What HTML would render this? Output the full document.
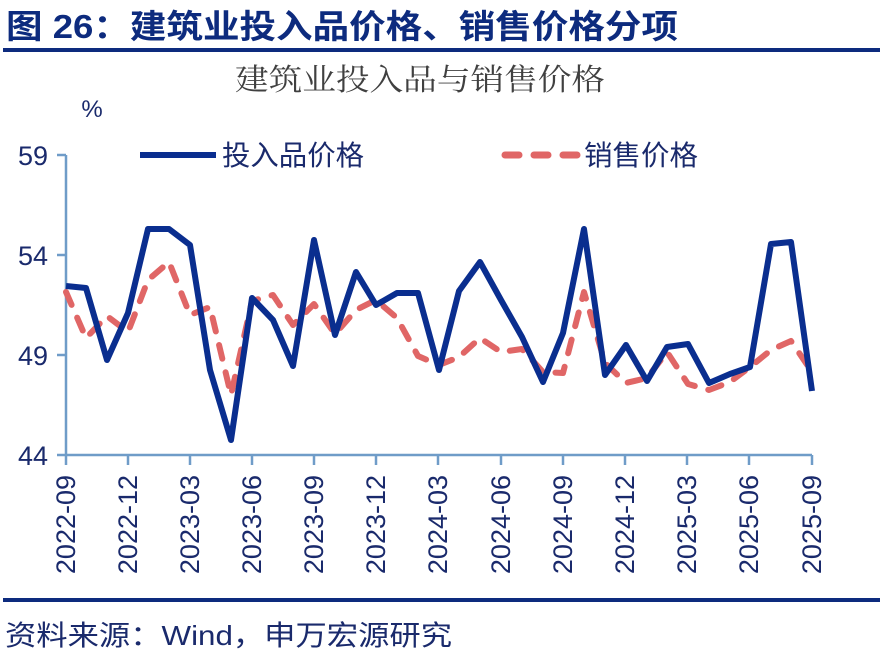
<!DOCTYPE html>
<html><head><meta charset="utf-8"><style>
html,body{margin:0;padding:0;background:#fff;}
svg{display:block;}
</style></head><body>
<svg width="886" height="658" viewBox="0 0 886 658" xmlns="http://www.w3.org/2000/svg">
<text x="6" y="38" font-family="Liberation Sans, Noto Sans CJK SC, sans-serif" font-weight="bold" font-size="33" fill="#0d2b7e" textLength="672" lengthAdjust="spacingAndGlyphs">图 26：建筑业投入品价格、销售价格分项</text>
<rect x="3" y="48" width="877" height="4" fill="#0d2b7e"/>
<text x="420" y="90" text-anchor="middle" font-family="Noto Serif CJK SC, serif" font-size="30" fill="#404040" textLength="370" lengthAdjust="spacingAndGlyphs">建筑业投入品与销售价格</text>
<text x="92" y="117" text-anchor="middle" font-family="Liberation Sans, sans-serif" font-size="24" fill="#1a2a6c">%</text>
<g font-family="Liberation Sans, sans-serif" font-size="27" fill="#1a2a6c" text-anchor="end">
<text x="48" y="165">59</text><text x="48" y="265">54</text><text x="48" y="365">49</text><text x="48" y="465">44</text>
</g>
<g stroke="#6f9cc8" stroke-width="2.5" fill="none">
<line x1="66" y1="155" x2="66" y2="456"/>
<line x1="57" y1="155" x2="66" y2="155"/><line x1="57" y1="255" x2="66" y2="255"/><line x1="57" y1="355" x2="66" y2="355"/><line x1="57" y1="455" x2="66" y2="455"/>
<line x1="66" y1="455" x2="812" y2="455"/>
<line x1="66" y1="455" x2="66" y2="465"/><line x1="128" y1="455" x2="128" y2="465"/><line x1="190" y1="455" x2="190" y2="465"/><line x1="252" y1="455" x2="252" y2="465"/><line x1="314" y1="455" x2="314" y2="465"/><line x1="376" y1="455" x2="376" y2="465"/><line x1="438" y1="455" x2="438" y2="465"/><line x1="501" y1="455" x2="501" y2="465"/><line x1="563" y1="455" x2="563" y2="465"/><line x1="625" y1="455" x2="625" y2="465"/><line x1="687" y1="455" x2="687" y2="465"/><line x1="749" y1="455" x2="749" y2="465"/><line x1="812" y1="455" x2="812" y2="465"/>
</g>
<g font-family="Liberation Sans, sans-serif" font-size="27" fill="#1a2a6c" text-anchor="end">
<text transform="translate(75,475) rotate(-90)">2022-09</text>
<text transform="translate(137,475) rotate(-90)">2022-12</text>
<text transform="translate(199,475) rotate(-90)">2023-03</text>
<text transform="translate(261,475) rotate(-90)">2023-06</text>
<text transform="translate(323,475) rotate(-90)">2023-09</text>
<text transform="translate(385,475) rotate(-90)">2023-12</text>
<text transform="translate(447,475) rotate(-90)">2024-03</text>
<text transform="translate(510,475) rotate(-90)">2024-06</text>
<text transform="translate(572,475) rotate(-90)">2024-09</text>
<text transform="translate(634,475) rotate(-90)">2024-12</text>
<text transform="translate(696,475) rotate(-90)">2025-03</text>
<text transform="translate(758,475) rotate(-90)">2025-06</text>
<text transform="translate(821,475) rotate(-90)">2025-09</text>
</g>
<polyline fill="none" stroke="#e06666" stroke-width="6" stroke-dasharray="14,14" stroke-linecap="round" stroke-linejoin="round" points="66,292 86,338 107,316 128,332 148,280 169,262 190,315 210,307 231,395 252,301 273,295 293,325 314,304 335,334 356,310 376,300 397,318 418,356 439,365 459,357 480,338 501,352 522,349 543,372 563,373 584,292 605,363 626,383 647,378 667,352 688,384 709,390 730,382 750,367 771,350 791,341 812,372"/>
<polyline fill="none" stroke="#0a2e8f" stroke-width="6" stroke-linejoin="round" points="66,286 86,288 107,360 128,313 148,229 169,229 190,245 210,370 231,440 252,298 273,320 293,366 314,240 335,335 356,272 376,305 397,293 418,293 439,370 459,291 480,262 501,300 522,337 543,382 563,333 584,229 605,375 626,345 647,381 667,347 688,344 709,383 730,374 750,367 771,244 791,242 812,391"/>
<line x1="140" y1="155" x2="216" y2="155" stroke="#0a2e8f" stroke-width="6"/>
<text x="222" y="165" font-family="Liberation Sans, Noto Sans CJK SC, sans-serif" font-size="28" fill="#1a2a6c" textLength="142" lengthAdjust="spacingAndGlyphs">投入品价格</text>
<line x1="505" y1="155" x2="577" y2="155" stroke="#e06666" stroke-width="7" stroke-dasharray="14,15" stroke-linecap="round"/>
<text x="584" y="165" font-family="Liberation Sans, Noto Sans CJK SC, sans-serif" font-size="28" fill="#1a2a6c" textLength="114" lengthAdjust="spacingAndGlyphs">销售价格</text>
<rect x="3" y="598" width="877" height="4" fill="#0d2b7e"/>
<text x="5" y="645" font-family="Liberation Sans, Noto Sans CJK SC, sans-serif" font-size="28" fill="#1a2a6c" textLength="447" lengthAdjust="spacingAndGlyphs">资料来源：Wind，申万宏源研究</text>
</svg>
</body></html>
